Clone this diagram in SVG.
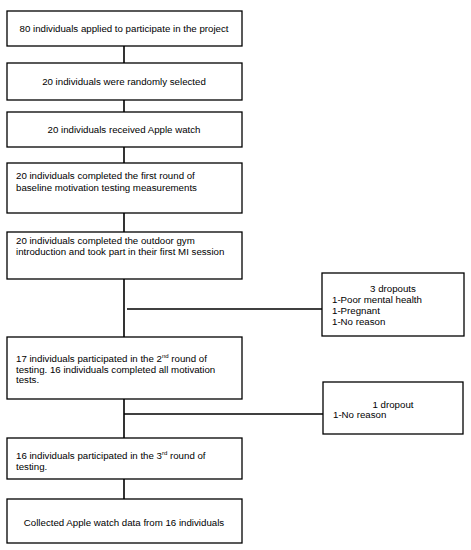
<svg xmlns="http://www.w3.org/2000/svg" width="471" height="550" viewBox="0 0 471 550">
<style>
.box{fill:#fff;stroke:#000;stroke-width:1.3}
.ln{stroke:#000;stroke-width:1.6;fill:none}
text{font-family:"Liberation Sans",Arial,sans-serif;font-size:9.7px;fill:#000}
.c{text-anchor:middle}
.sup{font-size:6px}
</style>
<rect width="471" height="550" fill="#fff"/>
<g id="connectors">
<line class="ln" x1="124" y1="46" x2="124" y2="63"/>
<line class="ln" x1="124" y1="100" x2="124" y2="112"/>
<line class="ln" x1="124" y1="147" x2="124" y2="163"/>
<line class="ln" x1="124" y1="213" x2="124" y2="232"/>
<line class="ln" x1="124" y1="279" x2="124" y2="337"/>
<line class="ln" x1="127" y1="309" x2="322" y2="309"/>
<line class="ln" x1="124" y1="399" x2="124" y2="438"/>
<line class="ln" x1="124" y1="414" x2="323" y2="414"/>
<line class="ln" x1="124" y1="479" x2="124" y2="499"/>
</g>
<g id="n1"><rect class="box" x="7" y="11" width="235" height="35"/><text class="c" x="124" y="32">80 individuals applied to participate in the project</text></g>
<g id="n2"><rect class="box" x="7" y="63" width="235" height="37"/><text class="c" x="124" y="85">20 individuals were randomly selected</text></g>
<g id="n3"><rect class="box" x="7" y="112" width="235" height="35"/><text class="c" x="124" y="133">20 individuals received Apple watch</text></g>
<g id="n4"><rect class="box" x="7" y="163" width="235" height="50"/><text x="16" y="179">20 individuals completed the first round of</text><text x="16" y="191">baseline motivation testing measurements</text></g>
<g id="n5"><rect class="box" x="7" y="232" width="235" height="47"/><text x="16" y="243.5">20 individuals completed the outdoor gym</text><text x="16" y="254.5">introduction and took part in their first MI session</text></g>
<g id="n6"><rect class="box" x="322" y="273" width="142" height="63"/><text class="c" x="393" y="292">3 dropouts</text><text x="332" y="302.5">1-Poor mental health</text><text x="332" y="314">1-Pregnant</text><text x="332" y="324.5">1-No reason</text></g>
<g id="n7"><rect class="box" x="7" y="337" width="235" height="62"/><text x="16" y="362">17 individuals participated in the 2<tspan class="sup" dy="-4">nd</tspan><tspan dy="4"> round of</tspan></text><text x="16" y="372.5">testing. 16 individuals completed all motivation</text><text x="16" y="382.5">tests.</text></g>
<g id="n8"><rect class="box" x="323" y="382" width="140" height="52"/><text class="c" x="393" y="407.5">1 dropout</text><text x="333" y="417.5">1-No reason</text></g>
<g id="n9"><rect class="box" x="7" y="438" width="235" height="41"/><text x="16" y="458.5">16 individuals participated in the 3<tspan class="sup" dy="-4">rd</tspan><tspan dy="4"> round of</tspan></text><text x="16" y="469.5">testing.</text></g>
<g id="n10"><rect class="box" x="7" y="499" width="235" height="44"/><text class="c" x="124" y="525.5">Collected Apple watch data from 16 individuals</text></g>
</svg>
